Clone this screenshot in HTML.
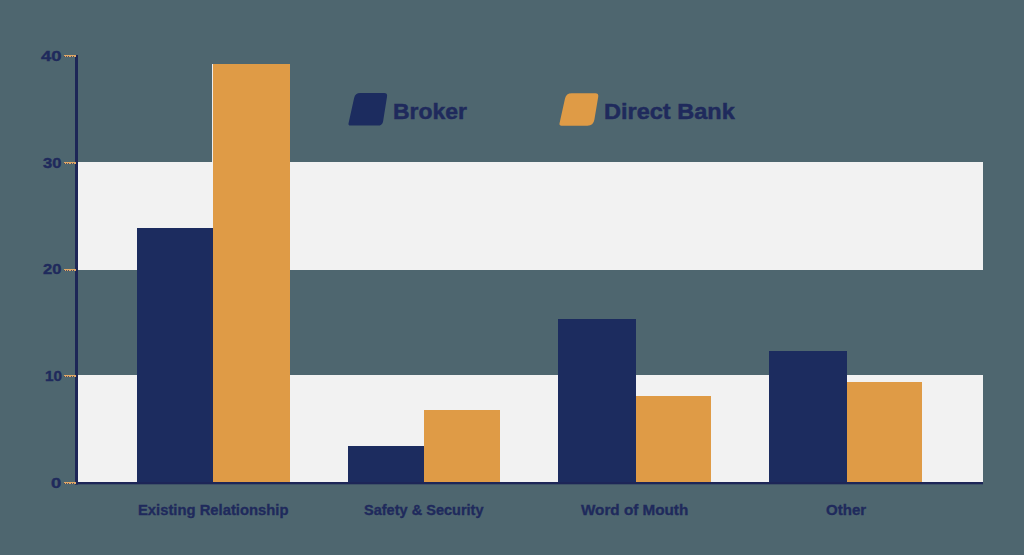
<!DOCTYPE html>
<html><head><meta charset="utf-8"><style>
html,body{margin:0;padding:0;}
body{width:1024px;height:555px;background:#4e666f;position:relative;overflow:hidden;font-family:"Liberation Sans",sans-serif;font-weight:bold;color:#1f2a5c;}
svg{position:absolute;left:0;top:0;}
.t{position:absolute;white-space:nowrap;transform-origin:0 0;}
</style></head><body>
<svg width="1024" height="555" viewBox="0 0 1024 555">
<rect x="78" y="162" width="905" height="108" fill="#f2f2f2"/>
<rect x="78" y="375" width="905" height="107" fill="#f2f2f2"/>
<rect x="137" y="228" width="76" height="254" fill="#1c2c5f"/>
<rect x="213" y="64" width="77" height="418" fill="#df9b46"/>
<rect x="348" y="446" width="76" height="36" fill="#1c2c5f"/>
<rect x="424" y="410" width="76" height="72" fill="#df9b46"/>
<rect x="558" y="319" width="78" height="163" fill="#1c2c5f"/>
<rect x="636" y="396" width="75" height="86" fill="#df9b46"/>
<rect x="769" y="351" width="78" height="131" fill="#1c2c5f"/>
<rect x="847" y="382" width="75" height="100" fill="#df9b46"/>
<rect x="75" y="55" width="3" height="429.5" fill="#1d2657"/>
<rect x="75" y="482" width="908" height="2.3000000000000114" fill="#1d2657"/>
<rect x="64" y="55" width="12" height="2" fill="#e0a866"/>
<rect x="64" y="56" width="1" height="1" fill="#1c2c5f" opacity="0.75"/>
<rect x="66" y="56" width="1" height="1" fill="#1c2c5f" opacity="0.75"/>
<rect x="68" y="56" width="1" height="1" fill="#1c2c5f" opacity="0.75"/>
<rect x="71" y="56" width="1" height="1" fill="#1c2c5f" opacity="0.75"/>
<rect x="73" y="56" width="1" height="1" fill="#1c2c5f" opacity="0.75"/>
<rect x="64" y="162" width="12" height="2" fill="#e0a866"/>
<rect x="64" y="163" width="1" height="1" fill="#1c2c5f" opacity="0.75"/>
<rect x="66" y="163" width="1" height="1" fill="#1c2c5f" opacity="0.75"/>
<rect x="68" y="163" width="1" height="1" fill="#1c2c5f" opacity="0.75"/>
<rect x="71" y="163" width="1" height="1" fill="#1c2c5f" opacity="0.75"/>
<rect x="73" y="163" width="1" height="1" fill="#1c2c5f" opacity="0.75"/>
<rect x="64" y="269" width="12" height="2" fill="#e0a866"/>
<rect x="64" y="270" width="1" height="1" fill="#1c2c5f" opacity="0.75"/>
<rect x="66" y="270" width="1" height="1" fill="#1c2c5f" opacity="0.75"/>
<rect x="68" y="270" width="1" height="1" fill="#1c2c5f" opacity="0.75"/>
<rect x="71" y="270" width="1" height="1" fill="#1c2c5f" opacity="0.75"/>
<rect x="73" y="270" width="1" height="1" fill="#1c2c5f" opacity="0.75"/>
<rect x="64" y="375" width="12" height="2" fill="#e0a866"/>
<rect x="64" y="376" width="1" height="1" fill="#1c2c5f" opacity="0.75"/>
<rect x="66" y="376" width="1" height="1" fill="#1c2c5f" opacity="0.75"/>
<rect x="68" y="376" width="1" height="1" fill="#1c2c5f" opacity="0.75"/>
<rect x="71" y="376" width="1" height="1" fill="#1c2c5f" opacity="0.75"/>
<rect x="73" y="376" width="1" height="1" fill="#1c2c5f" opacity="0.75"/>
<rect x="64" y="482" width="12" height="2" fill="#e0a866"/>
<rect x="64" y="483" width="1" height="1" fill="#1c2c5f" opacity="0.75"/>
<rect x="66" y="483" width="1" height="1" fill="#1c2c5f" opacity="0.75"/>
<rect x="68" y="483" width="1" height="1" fill="#1c2c5f" opacity="0.75"/>
<rect x="71" y="483" width="1" height="1" fill="#1c2c5f" opacity="0.75"/>
<rect x="73" y="483" width="1" height="1" fill="#1c2c5f" opacity="0.75"/>
<path d="M354.12 97.88 Q355.20 93.00 360.20 93.00 L384.10 93.00 Q387.60 93.00 387.05 96.46 L383.11 121.16 Q382.40 125.60 377.90 125.60 L350.50 125.60 Q348.00 125.60 348.54 123.16Z" fill="#1c2c5f"/>
<path d="M565.01 98.57 Q566.20 93.20 571.70 93.20 L595.30 93.20 Q598.80 93.20 598.23 96.65 L594.38 119.78 Q593.40 125.70 587.40 125.70 L561.50 125.70 Q559.00 125.70 559.54 123.26Z" fill="#df9b46"/>
<rect x="212" y="64" width="1" height="98" fill="#ececec"/>
</svg>
<div class="t" style="left:40.95px;top:48.05px;font-size:15.3px;line-height:15.3px;transform:scaleX(1.206);-webkit-text-stroke:0.4px #1f2a5c;">40</div>
<div class="t" style="left:43.11px;top:154.55px;font-size:15.3px;line-height:15.3px;transform:scaleX(1.0859);-webkit-text-stroke:0.4px #1f2a5c;">30</div>
<div class="t" style="left:43.1px;top:260.6px;font-size:15.3px;line-height:15.3px;transform:scaleX(1.0816);-webkit-text-stroke:0.4px #1f2a5c;">20</div>
<div class="t" style="left:45.15px;top:367.65px;font-size:15.3px;line-height:15.3px;transform:scaleX(1.0005);-webkit-text-stroke:0.4px #1f2a5c;">10</div>
<div class="t" style="left:51.02px;top:474.8px;font-size:15.3px;line-height:15.3px;transform:scaleX(1.2062);-webkit-text-stroke:0.4px #1f2a5c;">0</div>
<div class="t" style="left:138.03px;top:501.5px;font-size:15.4px;line-height:15.4px;transform:scaleX(0.9613);-webkit-text-stroke:0.35px #1f2a5c;">Existing Relationship</div>
<div class="t" style="left:364.04px;top:501.5px;font-size:15.4px;line-height:15.4px;transform:scaleX(0.9443);-webkit-text-stroke:0.35px #1f2a5c;">Safety &amp; Security</div>
<div class="t" style="left:581.0px;top:501.5px;font-size:15.4px;line-height:15.4px;transform:scaleX(0.9907);-webkit-text-stroke:0.35px #1f2a5c;">Word of Mouth</div>
<div class="t" style="left:826.0px;top:501.5px;font-size:15.4px;line-height:15.4px;transform:scaleX(0.9768);-webkit-text-stroke:0.35px #1f2a5c;">Other</div>
<div class="t" style="left:392.95px;top:101.2px;font-size:22.6px;line-height:22.6px;transform:scaleX(1.0156);-webkit-text-stroke:0.5px #1f2a5c;">Broker</div>
<div class="t" style="left:603.91px;top:101.2px;font-size:22.6px;line-height:22.6px;transform:scaleX(1.0413);-webkit-text-stroke:0.5px #1f2a5c;">Direct Bank</div>
</body></html>
